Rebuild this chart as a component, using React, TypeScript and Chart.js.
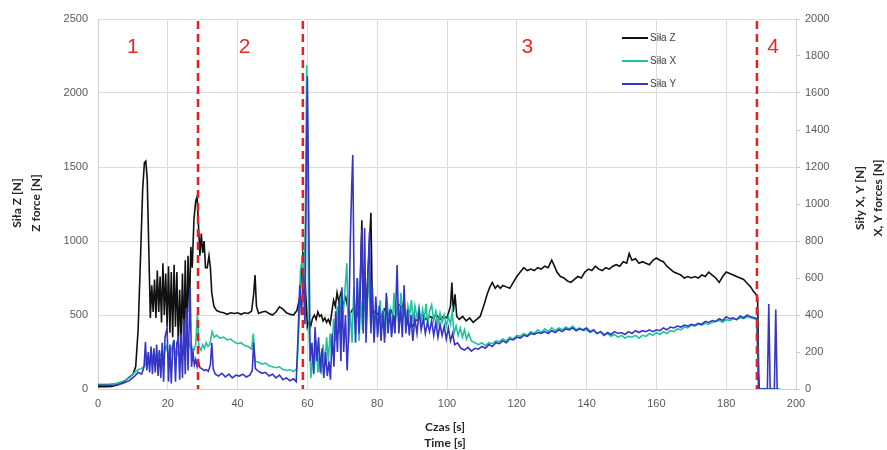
import React, { useEffect, useRef } from "react";
import { Chart, registerables } from "chart.js";

Chart.register(...registerables);

// ---- data (time in s) ----
const zTime = [0, 2, 4, 6, 8, 10, 10.8, 11.5, 12.2, 12.8, 13.3, 13.7, 14.1, 14.6, 15.0, 15.4, 15.8, 16.2, 16.6, 17.0, 17.4, 17.8, 18.2, 18.6, 19.0, 19.4, 19.8, 20.2, 20.6, 21.0, 21.4, 21.8, 22.2, 22.6, 23.0, 23.4, 23.8, 24.2, 24.6, 25.0, 25.4, 25.8, 26.2, 26.6, 27.0, 27.5, 28.0, 28.4, 28.8, 29.2, 29.6, 30.0, 30.4, 30.8, 31.3, 31.8, 32.2, 32.6, 33.2, 34, 35, 36, 37, 38, 39, 40, 41, 42, 43, 44, 44.6, 45.0, 45.4, 46, 47, 48, 49, 50, 51, 52, 53, 54, 55, 56, 57, 57.8, 58.3, 58.7, 59.1, 59.5, 60.0, 60.5, 61, 61.5, 62, 62.5, 63, 63.5, 64, 64.5, 65, 65.5, 66, 66.5, 67, 67.5, 68, 68.5, 69, 69.5, 70, 71, 72, 73, 74, 75, 75.6, 76.0, 77, 77.6, 78.2, 78.6, 79, 80, 81, 82, 83, 84, 85, 86, 87, 88, 89, 90, 91, 92, 93, 94, 95, 96, 97, 98, 99, 100, 101.0, 101.4, 101.8, 102.3, 102.8, 103.5, 104.5, 105.5, 106.5, 107.5, 108.5, 109.5, 110.5, 111.5, 112.3, 113, 113.8, 114.5, 115.3, 116, 117, 118, 119, 120, 121, 122, 123, 124, 125, 126, 127, 128, 129, 130, 130.8, 131.5, 132.5, 133.5, 134.5, 135.5, 136.5, 137.5, 138.5, 139.5, 140.5, 141.5, 142.5, 143.5, 144.5, 145.5, 146.5, 147.5, 148.5, 149.5, 150.5, 151.5, 152.2, 153, 154, 155, 156, 157, 158, 159, 160, 161, 162, 163, 164, 165, 166, 167, 168, 169, 170, 171, 172, 173, 174, 175, 176, 177, 178, 179, 180, 181, 182, 183, 184, 185, 186, 187, 187.8, 188.5, 189, 189.3, 189.5, 195];
const zForce = [15, 15, 18, 30, 60, 100, 150, 400, 900, 1350, 1530, 1540, 1420, 900, 480, 700, 520, 740, 480, 800, 520, 760, 450, 850, 500, 780, 420, 830, 380, 790, 350, 840, 420, 790, 300, 670, 330, 780, 300, 870, 320, 900, 520, 960, 820, 1150, 1270, 1300, 1100, 900, 1050, 920, 1000, 820, 820, 900, 820, 650, 560, 530, 520, 515, 505, 515, 510, 515, 505, 515, 510, 525, 640, 770, 560, 510, 520, 525, 510, 500, 520, 555, 540, 515, 505, 500, 530, 620, 780, 920, 880, 650, 420, 460, 430, 480, 500, 470, 520, 490, 500, 460, 480, 450, 470, 440, 520, 600, 560, 650, 590, 640, 560, 620, 500, 540, 480, 560, 1140, 520, 620, 900, 1190, 560, 520, 510, 480, 540, 500, 530, 470, 560, 580, 500, 430, 420, 460, 480, 500, 470, 490, 480, 500, 470, 490, 480, 560, 720, 520, 640, 490, 470, 490, 460, 480, 450, 470, 490, 560, 640, 690, 720, 680, 700, 680, 700, 690, 680, 720, 760, 790, 820, 800, 810, 800, 820, 810, 830, 820, 870, 830, 790, 760, 750, 730, 720, 740, 760, 750, 790, 810, 800, 830, 810, 800, 820, 810, 830, 840, 830, 860, 850, 915, 870, 880, 850, 860, 850, 840, 870, 885, 870, 860, 830, 810, 790, 780, 770, 750, 760, 750, 760, 750, 770, 760, 790, 770, 750, 720, 760, 790, 780, 770, 760, 750, 740, 715, 690, 660, 640, 620, 100, 0, 0];

const xTime = [0, 3, 5, 7, 9, 10.5, 11.5, 12.5, 13.5, 14, 14.5, 15.5, 16.5, 17.5, 18.5, 19.5, 20.5, 21.5, 22.5, 23.5, 24.5, 25.5, 26.5, 27.5, 28.0, 28.5, 28.9, 29.5, 30, 30.5, 31, 31.5, 32, 32.7, 33.3, 34, 35, 36, 37, 38, 39, 40, 41, 42, 43, 44, 44.5, 45, 46, 47, 48, 49, 50, 51, 52, 53, 54, 55, 56, 57, 57.6, 58, 58.5, 59, 59.4, 59.8, 60.1, 60.5, 61, 61.5, 62, 62.5, 63, 63.5, 64, 64.5, 65, 65.5, 66, 66.5, 67, 67.5, 68, 68.5, 69, 69.5, 70, 70.5, 71.3, 71.8, 72.3, 72.8, 73.3, 73.8, 74.3, 74.8, 75.3, 75.8, 76.3, 76.8, 77.6, 78.1, 78.6, 79.1, 79.6, 80.2, 80.8, 81.3, 81.8, 82.3, 82.8, 83.3, 83.8, 84.3, 84.8, 85.3, 85.8, 86.3, 86.8, 87.3, 87.8, 88.3, 88.8, 89.3, 89.8, 90.3, 90.8, 91.5, 92, 92.5, 93, 93.5, 94, 94.5, 95, 95.6, 96.2, 96.8, 97.4, 98, 98.6, 99.2, 99.8, 100.4, 101, 101.5, 102, 102.6, 103.2, 103.8, 104.4, 105, 105.6, 106.2, 107, 108, 109, 110, 111, 112, 113, 114, 115, 116, 117, 118, 119, 120, 121, 122, 123, 124, 125, 126, 127, 128, 129, 130, 131, 132, 133, 134, 135, 136, 137, 138, 139, 140, 141, 142, 143, 144, 145, 146, 147, 148, 149, 150, 151, 152, 153, 154, 155, 156, 157, 158, 159, 160, 161, 162, 163, 164, 165, 166, 167, 168, 169, 170, 171, 172, 173, 174, 175, 176, 177, 178, 179, 180, 181, 182, 183, 184, 185, 186, 187, 188, 188.8, 189.3, 195.5];
const xForce = [25, 25, 30, 40, 60, 90, 105, 110, 130, 170, 140, 180, 150, 200, 160, 230, 170, 250, 180, 240, 190, 300, 220, 210, 240, 410, 230, 210, 240, 220, 250, 230, 240, 310, 280, 290, 275, 280, 265, 270, 255, 245, 250, 235, 230, 215, 300, 150, 145, 135, 140, 125, 120, 115, 120, 105, 100, 105, 95, 110, 350, 640, 700, 560, 900, 1750, 1300, 300, 60, 180, 120, 260, 90, 200, 80, 240, 120, 280, 150, 300, 180, 380, 260, 450, 300, 500, 350, 460, 680, 250, 420, 250, 550, 300, 600, 260, 480, 320, 560, 300, 640, 350, 520, 280, 450, 300, 480, 330, 430, 280, 500, 350, 420, 300, 520, 380, 450, 330, 520, 380, 470, 330, 450, 400, 480, 360, 450, 380, 440, 360, 430, 380, 460, 340, 420, 455, 370, 420, 350, 410, 360, 400, 340, 390, 350, 420, 300, 340, 290, 330, 280, 320, 270, 300, 260, 250, 240, 250, 235, 250, 245, 260, 255, 270, 260, 280, 270, 290, 285, 300, 290, 310, 300, 320, 305, 325, 310, 330, 315, 330, 320, 335, 325, 340, 320, 330, 315, 320, 305, 315, 300, 310, 295, 300, 285, 295, 280, 290, 275, 285, 280, 290, 275, 290, 285, 300, 290, 305, 295, 310, 300, 315, 310, 325, 320, 335, 330, 345, 340, 350, 345, 355, 350, 360, 365, 370, 360, 375, 370, 380, 375, 385, 380, 390, 385, 380, 375, 0, 0];

const yTime = [0, 3, 5, 7, 9, 10.5, 11.5, 12.5, 13.2, 13.6, 14.0, 14.4, 14.8, 15.2, 15.6, 16.0, 16.4, 16.8, 17.2, 17.6, 18.0, 18.4, 18.8, 19.2, 19.8, 20.2, 20.6, 21.0, 21.4, 21.8, 22.2, 22.6, 23.0, 23.4, 23.8, 24.2, 24.6, 25.0, 25.4, 25.8, 26.4, 26.8, 27.2, 27.6, 28.0, 28.4, 28.8, 29.2, 29.8, 30.4, 31, 31.6, 32.2, 32.6, 33.0, 33.6, 34.5, 35.5, 36.5, 37.5, 38.5, 39.5, 40.5, 41.5, 42.5, 43.5, 44.2, 44.6, 45.1, 46, 47, 48, 49, 50, 51, 52, 53, 54, 55, 56, 56.8, 57.3, 57.8, 58.3, 58.8, 59.3, 59.7, 60.0, 60.4, 60.8, 61.3, 61.8, 62.2, 62.7, 63.2, 63.7, 64.2, 64.7, 65.2, 65.7, 66.2, 66.6, 67.1, 67.6, 68.1, 68.6, 69.1, 69.6, 69.9, 70.4, 70.9, 71.4, 71.8, 72.3, 72.7, 73.0, 73.4, 73.8, 74.3, 74.8, 75.3, 75.6, 76.0, 76.4, 76.8, 77.3, 77.8, 78.2, 78.6, 79.1, 79.6, 80.1, 80.6, 81.1, 81.6, 82.1, 82.6, 83.1, 83.6, 84.1, 84.6, 85.1, 85.7, 86.2, 86.7, 87.2, 87.7, 88.2, 88.7, 89.2, 89.7, 90.2, 90.8, 91.4, 92, 92.6, 93.2, 93.8, 94.4, 95, 95.6, 96.2, 96.8, 97.4, 98, 98.6, 99.2, 99.8, 100.4, 101, 101.6, 102.2, 103, 104, 105, 106, 107, 108, 109, 110, 111, 112, 113, 114, 115, 116, 117, 118, 119, 120, 121, 122, 123, 124, 125, 126, 127, 128, 129, 130, 131, 132, 133, 134, 135, 136, 137, 138, 139, 140, 141, 142, 143, 144, 145, 146, 147, 148, 149, 150, 151, 152, 153, 154, 155, 156, 157, 158, 159, 160, 161, 162, 163, 164, 165, 166, 167, 168, 169, 170, 171, 172, 173, 174, 175, 176, 177, 178, 179, 180, 181, 182, 183, 184, 185, 186, 187, 188, 188.8, 189.3, 191.8, 192.2, 192.6, 193.8, 194.2, 194.6];
const yForce = [20, 20, 22, 30, 45, 70, 90, 80, 120, 255, 100, 200, 90, 230, 80, 220, 90, 240, 70, 210, 60, 250, 40, 280, 330, 40, 240, 30, 220, 265, 40, 250, 270, 50, 300, 60, 380, 80, 440, 100, 550, 120, 200, 130, 160, 120, 150, 115, 110, 100, 105, 95, 130, 250, 110, 80, 70, 85, 65, 80, 60, 75, 70, 80, 65, 75, 100, 250, 110, 95, 85, 90, 70, 80, 60, 75, 50, 60, 45, 55, 40, 280, 560, 400, 620, 350, 1200, 1690, 900, 150, 250, 80, 335, 150, 280, 90, 220, 60, 200, 70, 150, 50, 300, 120, 420, 200, 480, 150, 550, 200, 400, 100, 300, 800, 1100, 1265, 500, 250, 600, 300, 700, 860, 300, 870, 250, 600, 850, 300, 550, 250, 500, 280, 450, 260, 420, 250, 520, 300, 430, 280, 400, 300, 670, 300, 450, 280, 560, 300, 430, 290, 400, 260, 380, 300, 420, 320, 380, 300, 360, 310, 370, 290, 360, 280, 350, 290, 340, 270, 330, 260, 300, 240, 250, 220, 210, 225, 205, 220, 215, 230, 220, 240, 230, 250, 245, 260, 250, 270, 265, 280, 275, 290, 285, 300, 295, 305, 300, 310, 300, 315, 305, 320, 310, 325, 320, 330, 315, 325, 320, 330, 310, 320, 300, 310, 290, 305, 295, 310, 300, 305, 295, 310, 300, 315, 305, 315, 310, 320, 310, 320, 315, 330, 320, 335, 330, 340, 335, 345, 340, 350, 345, 355, 350, 365, 360, 370, 365, 380, 370, 390, 380, 385, 375, 395, 385, 400, 390, 385, 380, 0, 0, 460, 0, 0, 430, 0];

const seriesNames = ["Siła Z", "Siła X", "Siła Y"];
const seriesColors = ["#111111", "#1fc39c", "#3535c8"];
const phaseBoundaries = [28.65, 58.7, 188.8];
const phaseLabels = ["1", "2", "3", "4"];
const phaseLabelTimes = [10, 42, 123, 193.4];
const phaseLabelLevel = 2310;
const leftTitle = ["Siła Z [N]", "Z force [N]"];
const rightTitle = ["Siły X, Y [N]", "X, Y forces [N]"];
const bottomTitle = ["Czas [s]", "Time [s]"];

const toPoints = (t: number[], v: number[]) => t.map((x, i) => ({ x, y: v[i] }));

const decorPlugin = {
  id: "decor",
  afterDatasetsDraw(chart: any) {
    const { ctx, chartArea, scales } = chart;
    const xs = scales.x;
    const yl = scales.y;
    ctx.save();
    // phase boundaries
    ctx.strokeStyle = "#ee1c1c";
    ctx.lineWidth = 2.5;
    ctx.setLineDash([8, 5]);
    phaseBoundaries.forEach((t) => {
      const px = xs.getPixelForValue(t);
      ctx.beginPath();
      ctx.moveTo(px, chartArea.top + 2);
      ctx.lineTo(px, chartArea.bottom);
      ctx.stroke();
    });
    ctx.setLineDash([]);
    // phase labels
    ctx.fillStyle = "#e8282b";
    ctx.font = "21px 'Liberation Sans', Arial, sans-serif";
    ctx.textAlign = "center";
    ctx.textBaseline = "middle";
    phaseLabels.forEach((lab, i) => {
      ctx.fillText(lab, xs.getPixelForValue(phaseLabelTimes[i]), yl.getPixelForValue(phaseLabelLevel));
    });
    // legend
    ctx.font = "10px 'Liberation Sans', Arial, sans-serif";
    ctx.textAlign = "left";
    seriesNames.forEach((name, i) => {
      const y = 38 + i * 23;
      ctx.strokeStyle = seriesColors[i];
      ctx.lineWidth = 2;
      ctx.beginPath();
      ctx.moveTo(622, y);
      ctx.lineTo(648, y);
      ctx.stroke();
      ctx.fillStyle = "#404040";
      ctx.fillText(name, 650, y);
    });
    // axis titles
    ctx.fillStyle = "#262626";
    ctx.font = "bold 12px Lato, 'Open Sans', sans-serif";
    ctx.textAlign = "center";
    ctx.textBaseline = "middle";
    ctx.fillText(bottomTitle[0], 445, 427);
    ctx.fillText(bottomTitle[1], 445, 443);
    const drawRot = (text: string, x: number, y: number) => {
      ctx.save();
      ctx.translate(x, y);
      ctx.rotate(-Math.PI / 2);
      ctx.fillText(text, 0, 0);
      ctx.restore();
    };
    drawRot(leftTitle[0], 17, 203);
    drawRot(leftTitle[1], 36, 203);
    drawRot(rightTitle[0], 860, 198);
    drawRot(rightTitle[1], 878, 198);
    ctx.restore();
  },
};

export default function App() {
  const ref = useRef<HTMLCanvasElement>(null);
  useEffect(() => {
    if (!ref.current) return;
    const tickFont = { family: "'Liberation Sans', Arial, sans-serif", size: 11 };
    const plain = (v: any) => String(v);
    const chart = new Chart(ref.current, {
      type: "line",
      data: {
        datasets: [
          {
            label: seriesNames[0],
            data: toPoints(zTime, zForce),
            borderColor: seriesColors[0],
            borderWidth: 1.6,
            pointRadius: 0,
            yAxisID: "y",
            order: 3,
          },
          {
            label: seriesNames[1],
            data: toPoints(xTime, xForce),
            borderColor: seriesColors[1],
            borderWidth: 1.6,
            pointRadius: 0,
            yAxisID: "y1",
            order: 2,
          },
          {
            label: seriesNames[2],
            data: toPoints(yTime, yForce),
            borderColor: seriesColors[2],
            borderWidth: 1.6,
            pointRadius: 0,
            yAxisID: "y1",
            order: 1,
          },
        ],
      },
      options: {
        animation: false,
        responsive: false,
        layout: { padding: { top: 19, left: 0, right: 0, bottom: 0 } },
        plugins: { legend: { display: false }, tooltip: { enabled: false } },
        scales: {
          x: {
            type: "linear",
            min: 0,
            max: 200,
            ticks: { stepSize: 20, color: "#595959", font: tickFont, padding: 8, maxRotation: 0, callback: plain },
            grid: { color: "#dcdcdc", drawTicks: false },
            border: { color: "#d0d0d0" },
            afterFit: (s: any) => {
              s.height = 61;
            },
          },
          y: {
            position: "left",
            min: 0,
            max: 2500,
            ticks: { stepSize: 500, color: "#595959", font: tickFont, padding: 10, callback: plain },
            grid: { color: "#dcdcdc", drawTicks: false },
            border: { color: "#d0d0d0" },
            afterFit: (s: any) => {
              s.width = 98;
            },
          },
          y1: {
            position: "right",
            min: 0,
            max: 2000,
            ticks: { stepSize: 200, color: "#595959", font: tickFont, padding: 5, callback: plain },
            grid: { drawOnChartArea: false, drawTicks: true, tickLength: 4, color: "#c8c8c8" },
            border: { color: "#d0d0d0" },
            afterFit: (s: any) => {
              s.width = 91;
            },
          },
        },
      },
      plugins: [decorPlugin],
    });
    return () => chart.destroy();
  }, []);
  return (
    <div style={{ position: "absolute", left: 0, top: 0, width: 887, height: 450, background: "#fff" }}>
      <canvas ref={ref} width={887} height={450} style={{ display: "block" }} />
    </div>
  );
}
